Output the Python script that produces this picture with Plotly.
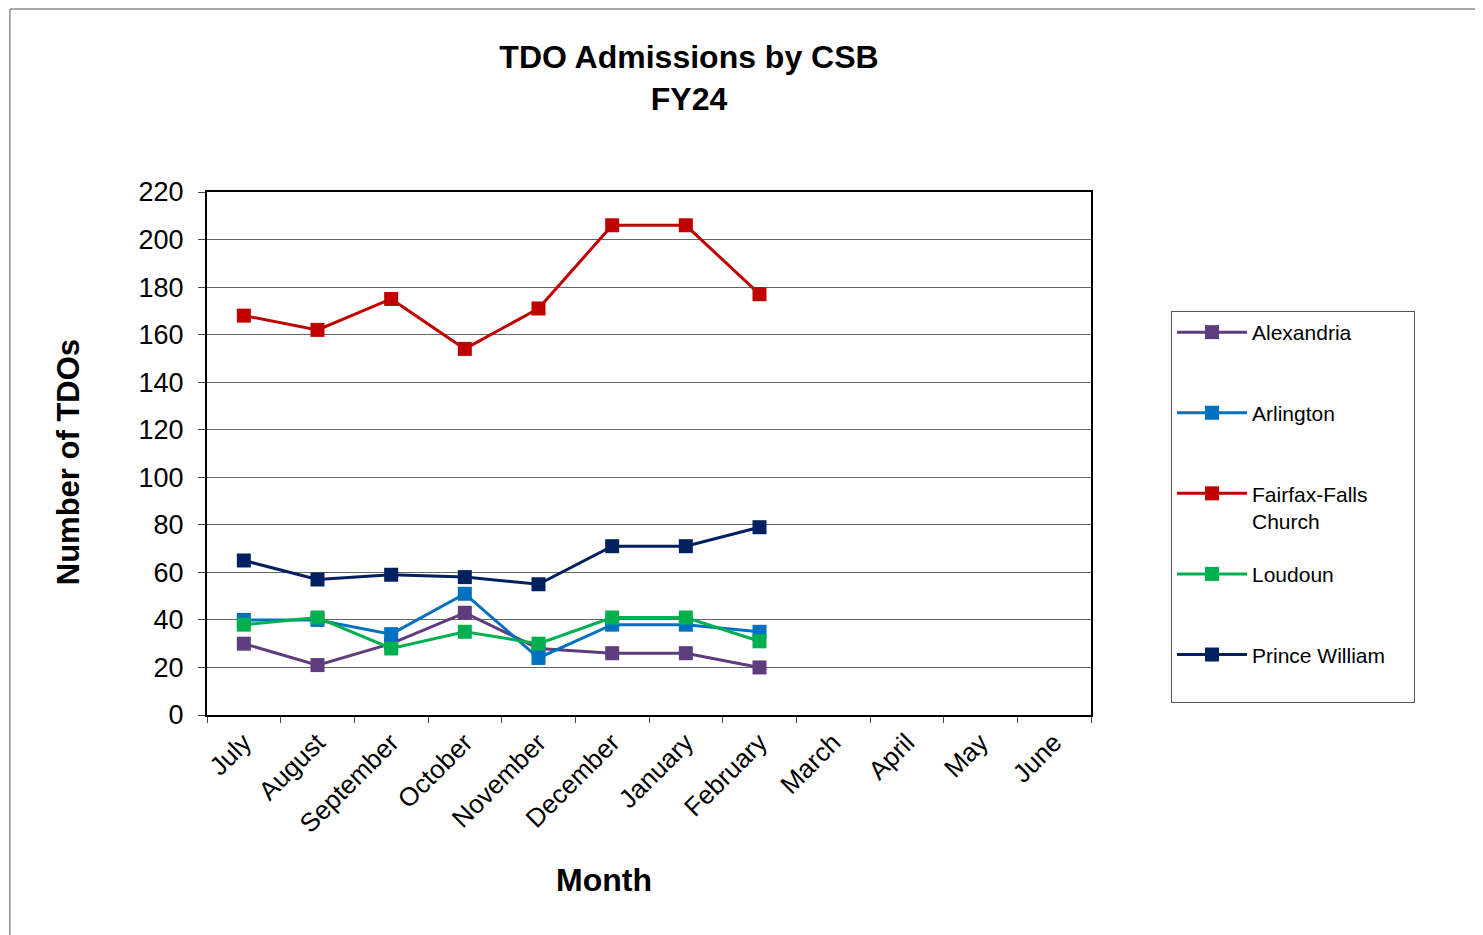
# TDO Admissions by CSB - FY24
import plotly.graph_objects as go

months = ["July", "August", "September", "October", "November", "December",
          "January", "February", "March", "April", "May", "June"]

alexandria = [30, 21, 30, 43, 28, 26, 26, 20]
arlington = [40, 40, 34, 51, 24, 38, 38, 35]
fairfax = [168, 162, 175, 154, 171, 206, 206, 177]
loudoun = [38, 41, 28, 35, 30, 41, 41, 31]
prince_william = [65, 57, 59, 58, 55, 71, 71, 79]

series = [
    ("Alexandria", alexandria, "#5E3C7E"),
    ("Arlington", arlington, "#0070C0"),
    ("Fairfax-Falls<br>Church", fairfax, "#C00000"),
    ("Loudoun", loudoun, "#00B050"),
    ("Prince William", prince_william, "#002060"),
]

fig = go.Figure()

for nome, vals, cor in series:
    # linha extra em branco para itens da legenda ficarem com a mesma altura
    label = nome if "<br>" in nome else nome + "<br> "
    if nome == "Prince William":
        label = nome + "\u00a0" * 4 + "<br> "  # alarga a caixa da legenda
    fig.add_trace(go.Scatter(
        x=months[:len(vals)],
        y=vals,
        name=label,
        legendgroup=nome,
        mode="lines+markers",
        line=dict(color=cor, width=3),
        marker=dict(symbol="square", size=14, color=cor),
    ))

fig.update_layout(
    width=1483, height=935,
    paper_bgcolor="white", plot_bgcolor="white",
    font=dict(family="Liberation Sans, Arial, sans-serif", color="black"),
    margin=dict(l=199, r=400, t=184, b=228),
    title=dict(
        text="<b>TDO Admissions by CSB<br>FY24</b>",
        x=681 / 1483, xref="container", xanchor="center",
        y=1 - 60 / 935, yref="container", yanchor="middle",
        font=dict(size=32),
    ),
    legend=dict(
        x=1.0905, y=0.7725, xanchor="left", yanchor="top",
        bgcolor="white", bordercolor="#555", borderwidth=1,
        font=dict(size=21), tracegroupgap=23, valign="top",
        itemwidth=70,
    ),
    showlegend=True,
)

fig.update_xaxes(
    type="category", categoryorder="array", categoryarray=months,
    range=[-0.5, 11.5], tickson="boundaries",
    ticks="outside", ticklen=6, tickcolor="#444",
    tickangle=-45, tickfont=dict(size=26),
    showline=True, linecolor="black", linewidth=2, mirror=True,
    showgrid=False,
)

fig.update_yaxes(
    range=[0, 220], dtick=20,
    ticks="outside", ticklen=7, tickcolor="#444",
    tickfont=dict(size=27), ticklabelstandoff=9,
    showline=True, linecolor="black", linewidth=2, mirror=True,
    showgrid=True, gridcolor="#666", gridwidth=1,
    zeroline=False,
)

# títulos dos eixos
fig.add_annotation(text="<b>Month</b>", xref="paper", yref="paper",
                   x=0.449, y=-0.3155, xanchor="center", yanchor="middle",
                   showarrow=False, font=dict(size=32))
fig.add_annotation(text="<b>Number of TDOs</b>", xref="paper", yref="paper",
                   x=-0.157, y=0.4837, xanchor="center", yanchor="middle",
                   textangle=-90, showarrow=False, font=dict(size=31))

# moldura externa do gráfico
fig.add_shape(type="rect", xref="paper", yref="paper",
              x0=-0.2229, y0=-0.45, x1=1.46, y1=1.3499,
              line=dict(color="#555", width=1), layer="below")

fig.write_html("out.html")
